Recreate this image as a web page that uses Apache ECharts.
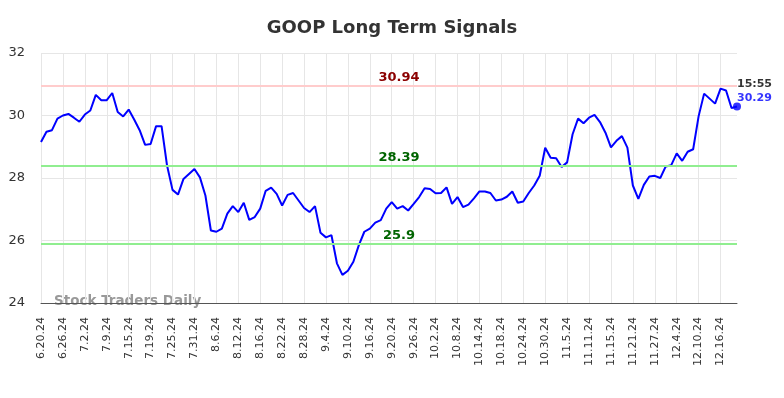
<!DOCTYPE html>
<html>
<head>
<meta charset="utf-8">
<script src="https://cdn.jsdelivr.net/npm/echarts@6/dist/echarts.min.js"></script>
<style>
  html, body { margin: 0; padding: 0; background: #fff; }
  #main { width: 784px; height: 398px; }
</style>
</head>
<body>
<div id="main"></div>
<script>
// trading days shown on the axis (every 4th gets a label)
var dates = [
    '6.20.24', '6.21.24', '6.24.24', '6.25.24', '6.26.24', '6.27.24', '6.28.24', '7.1.24',
    '7.2.24', '7.3.24', '7.5.24', '7.8.24', '7.9.24', '7.10.24', '7.11.24', '7.12.24',
    '7.15.24', '7.16.24', '7.17.24', '7.18.24', '7.19.24', '7.22.24', '7.23.24', '7.24.24',
    '7.25.24', '7.26.24', '7.29.24', '7.30.24', '7.31.24', '8.1.24', '8.2.24', '8.5.24',
    '8.6.24', '8.7.24', '8.8.24', '8.9.24', '8.12.24', '8.13.24', '8.14.24', '8.15.24',
    '8.16.24', '8.19.24', '8.20.24', '8.21.24', '8.22.24', '8.23.24', '8.26.24', '8.27.24',
    '8.28.24', '8.29.24', '8.30.24', '9.3.24', '9.4.24', '9.5.24', '9.6.24', '9.9.24',
    '9.10.24', '9.11.24', '9.12.24', '9.13.24', '9.16.24', '9.17.24', '9.18.24', '9.19.24',
    '9.20.24', '9.23.24', '9.24.24', '9.25.24', '9.26.24', '9.27.24', '9.30.24', '10.1.24',
    '10.2.24', '10.3.24', '10.4.24', '10.7.24', '10.8.24', '10.9.24', '10.10.24', '10.11.24',
    '10.14.24', '10.15.24', '10.16.24', '10.17.24', '10.18.24', '10.21.24', '10.22.24', '10.23.24',
    '10.24.24', '10.25.24', '10.28.24', '10.29.24', '10.30.24', '10.31.24', '11.1.24', '11.4.24',
    '11.5.24', '11.6.24', '11.7.24', '11.8.24', '11.11.24', '11.12.24', '11.13.24', '11.14.24',
    '11.15.24', '11.18.24', '11.19.24', '11.20.24', '11.21.24', '11.22.24', '11.25.24', '11.26.24',
    '11.27.24', '11.29.24', '12.2.24', '12.3.24', '12.4.24', '12.5.24', '12.6.24', '12.9.24',
    '12.10.24', '12.11.24', '12.12.24', '12.13.24', '12.16.24', '12.17.24', '12.18.24', '12.19.24'
];
var prices = [
    29.15, 29.48, 29.53, 29.90, 30.00, 30.05, 29.93, 29.80,
    30.03, 30.16, 30.66, 30.49, 30.49, 30.72, 30.11, 29.97,
    30.19, 29.87, 29.53, 29.06, 29.09, 29.66, 29.66, 28.40,
    27.62, 27.47, 27.97, 28.13, 28.29, 28.02, 27.44, 26.32,
    26.28, 26.38, 26.86, 27.10, 26.91, 27.21, 26.66, 26.75,
    27.02, 27.59, 27.69, 27.49, 27.12, 27.46, 27.52, 27.28,
    27.04, 26.91, 27.10, 26.25, 26.10, 26.17, 25.27, 24.90,
    25.03, 25.32, 25.85, 26.28, 26.38, 26.57, 26.65, 27.02,
    27.23, 27.02, 27.10, 26.96, 27.17, 27.39, 27.67, 27.65,
    27.51, 27.52, 27.70, 27.17, 27.39, 27.07, 27.15, 27.35,
    27.57, 27.57, 27.52, 27.28, 27.31, 27.40, 27.57, 27.21,
    27.25, 27.52, 27.76, 28.07, 28.97, 28.65, 28.63, 28.35,
    28.50, 29.40, 29.90, 29.75, 29.93, 30.02, 29.79, 29.45,
    28.98, 29.19, 29.34, 28.97, 27.76, 27.33, 27.78, 28.05,
    28.07, 28.00, 28.37, 28.41, 28.79, 28.55, 28.84, 28.92,
    29.98, 30.70, 30.54, 30.38, 30.86, 30.80, 30.24, 30.29
];
var yTicks = [24, 26, 28, 30, 32];
var resistance = 30.94;
var supports = [28.39, 25.9];
var lastTime = '15:55';

var lastIdx = prices.length - 1;
var chart = echarts.init(document.getElementById('main'));

var markData = [{
    yAxis: resistance,
    lineStyle: {color: '#ffcccc', width: 2, type: 'solid'},
    label: {color: '#8b0000'}
}];
supports.forEach(function (v) {
    markData.push({
        yAxis: v,
        lineStyle: {color: '#90ee90', width: 2, type: 'solid'},
        label: {color: '#006400'}
    });
});

var option = {
    animation: false,
    title: {
        text: 'GOOP Long Term Signals',
        left: 'center',
        top: 14,
        textStyle: {fontSize: 18, fontWeight: 'bold', color: '#333', fontFamily: 'DejaVu Sans'}
    },
    grid: {left: 41, right: 47, top: 53, bottom: 95},
    xAxis: {
        type: 'category',
        data: dates,
        boundaryGap: false,
        axisTick: {show: false},
        axisLine: {lineStyle: {color: '#555'}},
        axisLabel: {
            interval: 3,
            rotate: 90,
            margin: 14,
            fontSize: 11,
            color: '#333',
            fontFamily: 'DejaVu Sans'
        },
        splitLine: {show: true, interval: 3, lineStyle: {color: '#e6e6e6'}}
    },
    yAxis: {
        type: 'value',
        min: yTicks[0],
        max: yTicks[yTicks.length - 1],
        interval: 2,
        axisLine: {show: false},
        axisTick: {show: false},
        axisLabel: {fontSize: 13, color: '#333', margin: 16, fontFamily: 'DejaVu Sans'},
        splitLine: {lineStyle: {color: '#e6e6e6'}}
    },
    graphic: [{
        type: 'text',
        left: 54,
        top: 294,
        style: {
            text: 'Stock Traders Daily',
            fill: '#999',
            font: 'bold 13.5px DejaVu Sans'
        }
    }],
    series: [
        {
            type: 'line',
            data: prices,
            showSymbol: false,
            lineStyle: {color: '#0000ff', width: 2},
            itemStyle: {color: '#0000ff'},
            z: 3,
            markLine: {
                silent: true,
                symbol: 'none',
                label: {
                    position: 'middle',
                    formatter: function (p) { return String(p.value); },
                    fontSize: 13,
                    fontWeight: 'bold',
                    fontFamily: 'DejaVu Sans',
                    distance: 2,
                    offset: [10, 0]
                },
                data: markData
            }
        },
        {
            type: 'scatter',
            data: [[lastIdx, prices[lastIdx]]],
            symbolSize: 8,
            itemStyle: {color: '#0000ff'},
            z: 4,
            label: {
                show: true,
                position: [4, -25],
                align: 'left',
                formatter: '{t|' + lastTime + '}\n{v|' + prices[lastIdx].toFixed(2) + '}',
                rich: {
                    t: {fontSize: 11, fontWeight: 'bold', color: '#000', lineHeight: 14, fontFamily: 'DejaVu Sans'},
                    v: {fontSize: 11, fontWeight: 'bold', color: '#0000ff', lineHeight: 14, fontFamily: 'DejaVu Sans'}
                }
            }
        }
    ]
};
chart.setOption(option);
</script>
</body>
</html>
